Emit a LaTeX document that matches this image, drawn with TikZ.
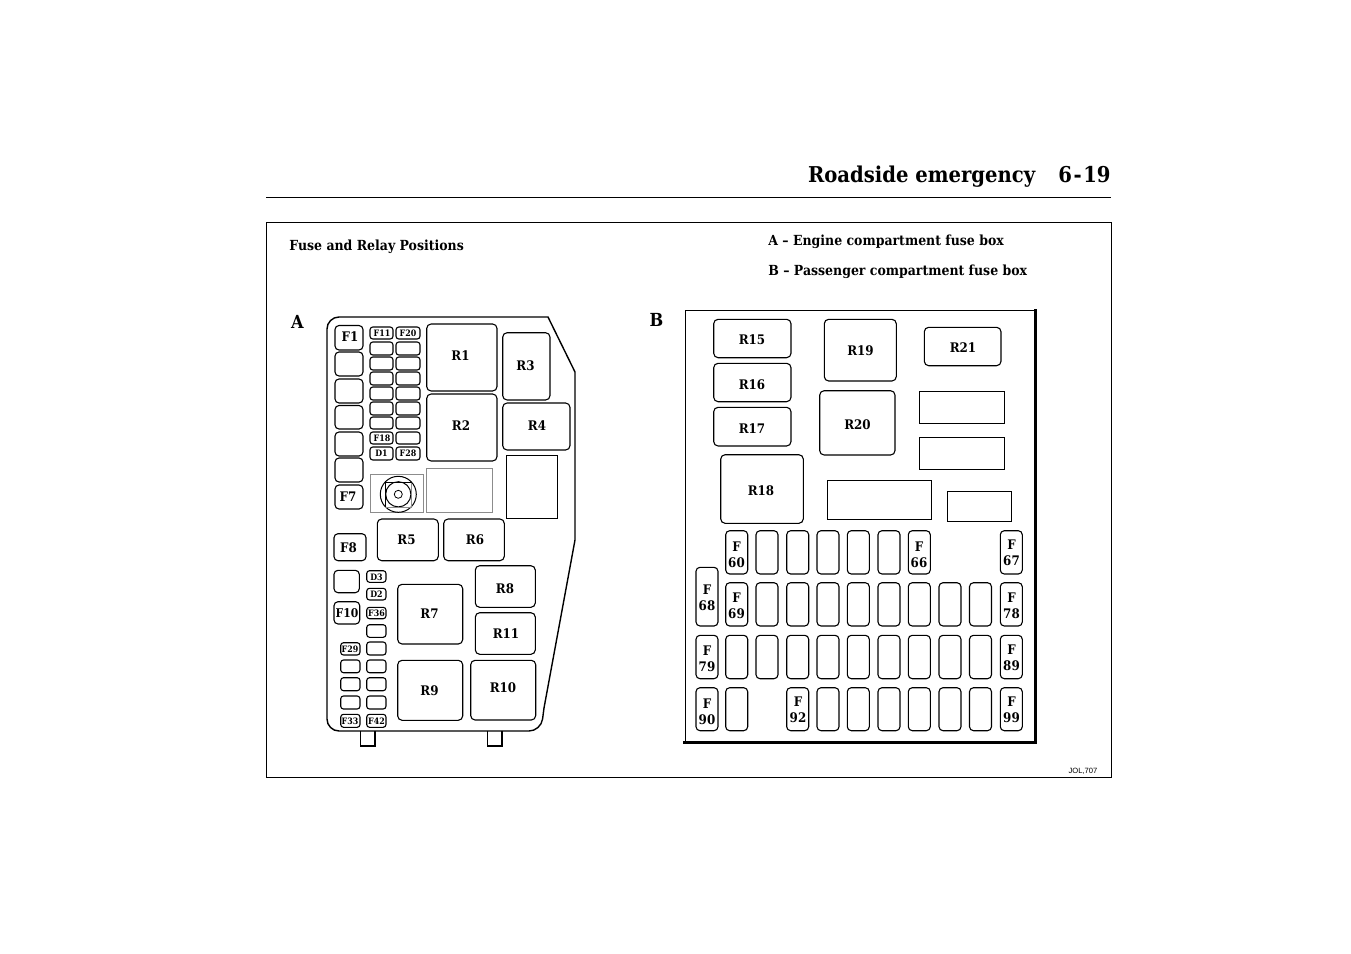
\documentclass[tikz,border=0pt]{standalone}
\usepackage{fontspec}
\setmainfont[FakeStretch=0.9]{DejaVu Serif}
\newfontfamily\jolfont{Liberation Sans}
\tikzset{
  boxbase/.style={inner sep=0pt,outer sep=0pt,line width=.55pt,draw=black},
  relay/.style={boxbase,rounded corners=2.2pt},
  fuse/.style={boxbase,rounded corners=2pt},
  tiny fuse/.style={boxbase,rounded corners=1.4pt},
  plain/.style={boxbase,line width=.5pt},
  grey/.style={boxbase,line width=.5pt,draw=black!45},
  lab/.style={inner sep=0pt,font=\bfseries\fontsize{6.6}{8}\selectfont,align=center},
  small lab/.style={inner sep=0pt,font=\bfseries\fontsize{4.4}{5}\selectfont},
  head/.style={inner sep=0pt,font=\bfseries\fontsize{6.95}{8}\selectfont,anchor=base west},
}
\newcommand\bx[6]{% style,name,x0,y0,x1,y1
  \pgfmathsetmacro\cxx{(#3+#5)/2}\pgfmathsetmacro\cyy{(#4+#6)/2}
  \pgfmathsetmacro\www{(#5-#3)/2}\pgfmathsetmacro\hhh{(#6-#4)/2}
  \node[#1,minimum width=\www pt,minimum height=\hhh pt] (#2) at (\cxx,\cyy) {};}
\newcommand\tx[5][lab]{\node[#1] (#2) at (#3,#4) {#5};}
\begin{document}
\begin{tikzpicture}[x=.5pt,y=-.5pt]
\useasboundingbox (0,0) rectangle (1351,954);
\fill[white] (0,0) rectangle (1351,954);
% header
\node[inner sep=0pt,anchor=base east,font=\bfseries\fontsize{10.9}{13}\selectfont] (title) at (1111,182.5) {Roadside emergency\hspace{11.5pt}6\kern.8pt-\kern.8pt19};
\coordinate (ruleL) at (266,197.5); \coordinate (ruleR) at (1111,197.5);
\draw[line width=.5pt] (ruleL) -- (ruleR);
\node[draw,line width=.5pt,inner sep=0pt,minimum width=422.5pt,minimum height=277.5pt] (frame) at (689,500) {};
\node[head] (ttl) at (289,250) {Fuse and Relay Positions};
\node[head] (ka) at (768,245) {A -- Engine compartment fuse box};
\node[head] (kb) at (768,275) {B -- Passenger compartment fuse box};
\node[inner sep=0pt,font=\fontsize{3.8}{4}\selectfont\jolfont] (jol) at (1083,771) {JOL,707};
\node[inner sep=0pt,font=\bfseries\fontsize{9}{10}\selectfont] (A) at (297.5,322) {A};
\node[inner sep=0pt,font=\bfseries\fontsize{9}{10}\selectfont] (B) at (656.5,320) {B};
% panel A outline
\draw[line width=.7pt] (360.5,731) -- (360.5,746) -- (375,746) -- (375,731);
\draw[line width=.7pt] (487.5,731) -- (487.5,746) -- (502,746) -- (502,731);
\draw[line width=.7pt,rounded corners=6pt] (339,317) -- (327,317) -- (327,731) -- (541,731) -- (544,708);
\draw[line width=.7pt] (339,317) -- (548,317) -- (575,372) -- (575,540) -- (544,708);
% panel A column F
\foreach \n/\a/\b in {1/325.5/350,2/352/376,3/379/403,4/405.5/429,5/432/456,6/458/482,7/485/509}{
  \bx{fuse}{cf\n}{335}{\a}{363}{\b}}
\tx{tF1}{350}{337}{F1}
\tx{tF7}{348}{497}{F7}
\foreach \n/\a/\b in {1/327/339,2/342/355,3/357/370,4/372/385,5/387/400,6/402/415,7/417/429,8/432/444,9/447/460}{
  \bx{tiny fuse}{sl\n}{370}{\a}{393}{\b}
  \bx{tiny fuse}{sr\n}{396}{\a}{420}{\b}}
\tx[small lab]{tF11}{382}{333.5}{F11}
\tx[small lab]{tF20}{408}{333.5}{F20}
\tx[small lab]{tF18}{382}{438}{F18}
\tx[small lab]{tD1}{381.5}{453.5}{D1}
\tx[small lab]{tF28}{408}{453.5}{F28}
% relays A
\bx{relay}{R1}{426.7}{324}{497}{391}    \tx{tR1}{460.5}{356}{R1}
\bx{relay}{R2}{426.7}{394}{497}{461}    \tx{tR2}{461}{425.5}{R2}
\bx{relay}{R3}{502.7}{332.7}{550}{400}  \tx{tR3}{525.5}{365.5}{R3}
\bx{relay}{R4}{502.7}{403}{570}{450}    \tx{tR4}{537}{426}{R4}
\bx{plain}{pa}{506}{455}{557}{518}
\bx{grey}{ga}{426.7}{468.7}{492.7}{512.7}
\bx{grey}{gb}{370}{474}{423}{512}
\node[draw,line width=.5pt,circle,minimum size=18pt,inner sep=0pt] (c1) at (398.3,494.3) {};
\node[draw,line width=.5pt,circle,minimum size=12.6pt,inner sep=0pt] (c2) at (398.3,494.3) {};
\node[draw,line width=.4pt,circle,minimum size=4pt,inner sep=0pt] (c3) at (398.3,494.3) {};
\bx{grey}{sq}{385.7}{482}{411.7}{507}
\draw[line width=.5pt] (sq.south west) -- (sq.north west) -- (sq.north east);
\bx{relay}{R5}{377.3}{519}{438.3}{560.7} \tx{tR5}{406.5}{540}{R5}
\bx{relay}{R6}{443.7}{519}{504.3}{560.7} \tx{tR6}{475}{539.5}{R6}
\bx{fuse}{F8}{334}{533.7}{366}{560.7}    \tx{tF8}{348.5}{548}{F8}
\bx{fuse}{Fb}{334}{570.3}{359.3}{592.7}
\bx{fuse}{F10}{334}{601.7}{359.7}{624}   \node[lab,font=\bfseries\fontsize{6}{8}\selectfont] (tF10) at (347,613) {F10};
\foreach \n/\a/\b in {1/570.7/582.3,2/588.3/600,3/607.3/618.7,4/624.7/637.3,5/642/655,6/660/672.7,7/677.7/690.7,8/696/709,9/714.3/727.3}{
  \bx{tiny fuse}{dr\n}{366.7}{\a}{386}{\b}}
\foreach \n/\a/\b in {5/642.7/655,6/660/672.7,7/677.7/690.7,8/696/709,9/714.3/727.3}{
  \bx{tiny fuse}{dl\n}{340.7}{\a}{360}{\b}}
\tx[small lab]{tD3}{376.5}{577}{D3}
\tx[small lab]{tD2}{376.5}{594.5}{D2}
\tx[small lab]{tF36}{376.5}{613}{F36}
\tx[small lab]{tF42}{376.5}{721}{F42}
\tx[small lab]{tF29}{350}{649}{F29}
\tx[small lab]{tF33}{350}{721}{F33}
\bx{relay}{R7}{397.7}{584.3}{462.7}{644}  \tx{tR7}{429.5}{614}{R7}
\bx{relay}{R9}{397.7}{660.3}{462.7}{720.3}\tx{tR9}{429.5}{690.5}{R9}
\bx{relay}{R8}{475.3}{565.7}{535.3}{607.3}\tx{tR8}{505}{588.5}{R8}
\bx{relay}{R11}{475.3}{612.7}{535.3}{654.3}\tx{tR11}{506}{634}{R11}
\bx{relay}{R10}{470.7}{660.3}{535.7}{720} \tx{tR10}{503}{688}{R10}
% panel B
\node[draw,line width=.5pt,inner sep=0pt,minimum width=175pt,minimum height=215.75pt] (pB) at (860,526.25) {};
\draw[line width=1.05pt,line cap=rect] (pB.north east) -- (pB.south east) -- (pB.south west);
\bx{relay}{R15}{713.7}{319.3}{791}{357.7}  \tx{tR15}{752}{340}{R15}
\bx{relay}{R16}{713.7}{363.3}{791}{401.7}  \tx{tR16}{752}{385}{R16}
\bx{relay}{R17}{713.7}{407.3}{791}{446}    \tx{tR17}{752}{428.5}{R17}
\bx{relay}{R18}{720.7}{454.7}{803.3}{523.3}\tx{tR18}{761}{491}{R18}
\bx{relay}{R19}{824.3}{319.3}{896.3}{381}  \tx{tR19}{860.5}{351}{R19}
\bx{relay}{R20}{819.7}{390.7}{895}{455}    \tx{tR20}{857.5}{425}{R20}
\bx{relay}{R21}{924.3}{327.3}{1001}{365.7} \tx{tR21}{963}{348}{R21}
\bx{plain}{pb}{919.3}{391.7}{1004.7}{423.3}
\bx{plain}{pc}{919.3}{437.3}{1004.7}{469.3}
\bx{plain}{pd}{827.3}{480.3}{931.7}{519.3}
\bx{plain}{pe}{947.3}{491.3}{1011.7}{521.3}
% fuse grid: column index/x0 lists per row
\def\rowA{1/725.7,2/756,3/786.7,4/817,5/847.3,6/878,7/908.3,10/1000.3}
\def\rowB{1/725.7,2/756,3/786.7,4/817,5/847.3,6/878,7/908.3,8/939,9/969.5,10/1000.3}
\def\rowC{0/696,1/725.7,2/756,3/786.7,4/817,5/847.3,6/878,7/908.3,8/939,9/969.5,10/1000.3}
\def\rowD{0/696,1/725.7,3/786.7,4/817,5/847.3,6/878,7/908.3,8/939,9/969.5,10/1000.3}
\foreach \c/\x in \rowA {\pgfmathsetmacro\xe{\x+22}\bx{fuse}{ga\c}{\x}{530.7}{\xe}{574}}
\foreach \c/\x in \rowB {\pgfmathsetmacro\xe{\x+22}\bx{fuse}{gb\c}{\x}{582.7}{\xe}{626}}
\foreach \c/\x in \rowC {\pgfmathsetmacro\xe{\x+22}\bx{fuse}{gc\c}{\x}{635.3}{\xe}{678.7}}
\foreach \c/\x in \rowD {\pgfmathsetmacro\xe{\x+22}\bx{fuse}{gd\c}{\x}{687.7}{\xe}{730.7}}
\bx{fuse}{g68}{696}{567.3}{718}{626}
\tx{t60}{736.5}{555}{F\\60}
\tx{t66}{919}{555}{F\\66}
\tx{t67}{1011.5}{553}{F\\67}
\tx{t68}{707}{598}{F\\68}
\tx{t69}{736.5}{606}{F\\69}
\tx{t78}{1011.5}{606}{F\\78}
\tx{t79}{707}{659}{F\\79}
\tx{t89}{1011.5}{658}{F\\89}
\tx{t90}{707}{712}{F\\90}
\tx{t92}{798}{710}{F\\92}
\tx{t99}{1011.5}{710}{F\\99}
\end{tikzpicture}
\end{document}
